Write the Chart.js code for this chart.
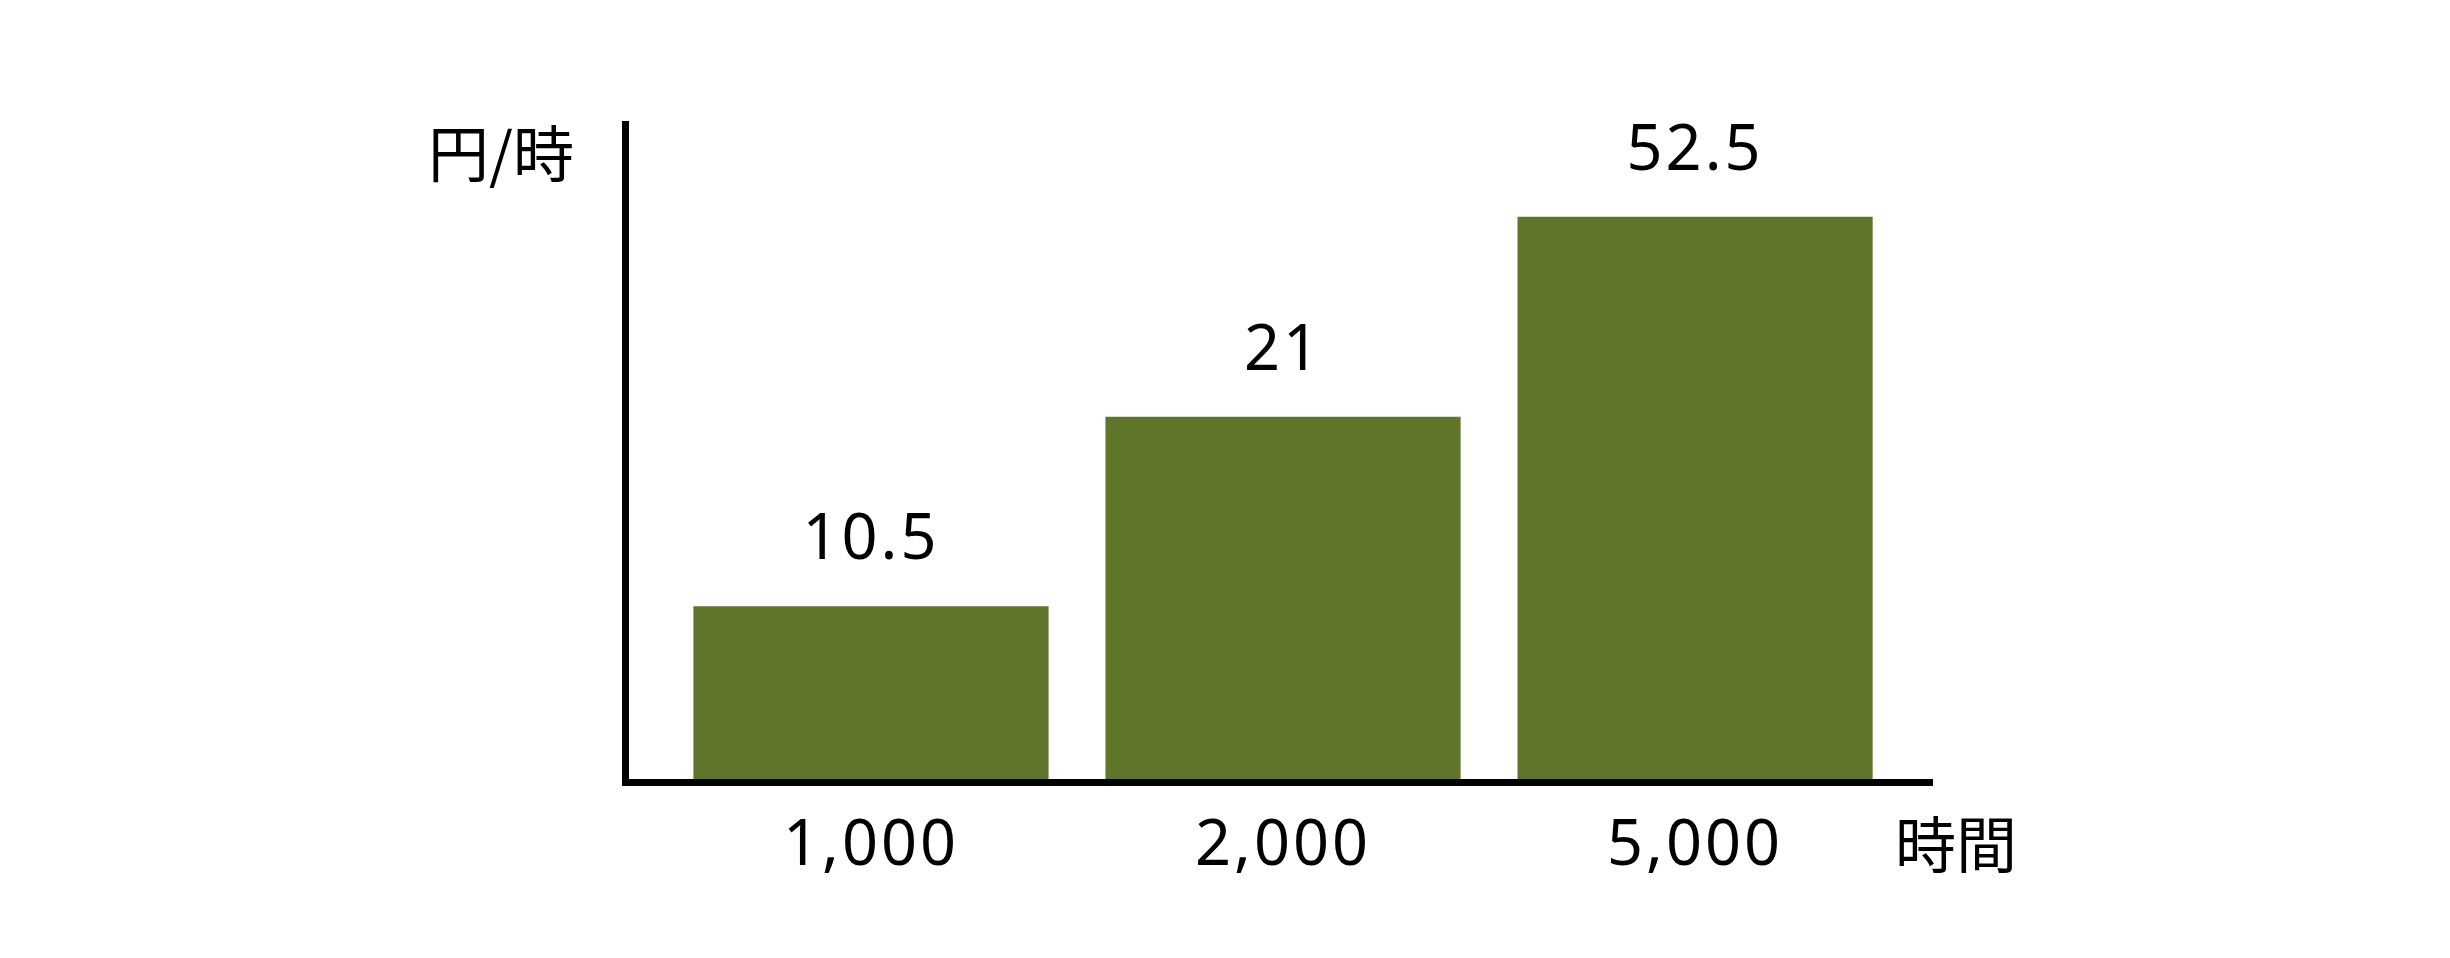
<!DOCTYPE html>
<html>
<head>
<meta charset="utf-8">
<title>円/時</title>
<script src="https://cdn.jsdelivr.net/npm/chart.js"></script>
<style>
    body { margin: 0; background: #ffffff; }
    #wrap { width: 2450px; height: 958px; }
</style>
</head>
<body>
<div id="wrap">
    <canvas id="rateChart" width="2450" height="958"></canvas>
</div>
<script>
    // categories (hours) and the values printed above the bars
    const hourLabels = ['1,000', '2,000', '5,000'];
    const rateLabels = ['10.5', '21', '52.5'];
    // bar heights as drawn in the picture (0-100 of the axis height, not to scale with the labels)
    const barHeights = [26.7, 55.5, 85.9];
    const xTitle = '時間';
    const yTitle = '円/時';

    const numFont = '"Noto Sans", sans-serif';
    const cjkFont = '"Noto Sans CJK JP", sans-serif';
    const barColor = 'rgb(94, 117, 42)';

    // value labels above bars and the two axis titles
    const annotate = {
        id: 'annotate',
        beforeDraw(chart) {
            chart.ctx.letterSpacing = '3px';
        },
        afterDraw(chart) {
            const ctx = chart.ctx;
            const area = chart.chartArea;
            ctx.save();
            ctx.fillStyle = '#000';
            ctx.letterSpacing = '3px';
            ctx.font = '63px ' + numFont;
            ctx.textAlign = 'center';
            ctx.textBaseline = 'alphabetic';
            chart.getDatasetMeta(0).data.forEach((bar, i) => {
                ctx.fillText(rateLabels[i], bar.x, bar.y - 47);
            });

            ctx.letterSpacing = '0px';
            ctx.font = '400 61px ' + cjkFont;
            ctx.textBaseline = 'middle';
            ctx.textAlign = 'right';
            ctx.fillText(yTitle, area.left - 51, area.top + 30);
            ctx.textAlign = 'left';
            ctx.fillText(xTitle, area.right - 37, area.bottom + 63);
            ctx.restore();
        }
    };

    const ctx = document.getElementById('rateChart').getContext('2d');

    new Chart(ctx, {
        type: 'bar',
        data: {
            datasets: [{
                data: barHeights.map((h, i) => ({ x: i + 1, y: h })),
                backgroundColor: barColor,
                borderWidth: 0,
                barPercentage: 0.862,
                categoryPercentage: 1.0,
            }],
        },
        options: {
            responsive: false,
            animation: false,
            layout: {
                padding: { left: 625, top: 124, right: 518, bottom: 0 },
            },
            plugins: {
                legend: { display: false },
                tooltip: { enabled: false },
            },
            scales: {
                x: {
                    type: 'linear',
                    min: 0.403,
                    max: 3.575,
                    offset: false,
                    grid: { display: false },
                    border: { display: true, color: '#000', width: 7, z: 1 },
                    ticks: {
                        stepSize: 1,
                        includeBounds: false,
                        autoSkip: false,
                        maxRotation: 0,
                        padding: 19,
                        color: '#000',
                        font: { family: numFont, size: 63 },
                        callback: (value) => Number.isInteger(value) ? hourLabels[value - 1] : '',
                    },
                    afterFit: (scale) => { scale.height = 176; },
                },
                y: {
                    min: 0,
                    max: 100,
                    grid: { display: false },
                    border: { display: true, color: '#000', width: 7, z: 1 },
                    ticks: { display: false },
                    afterFit: (scale) => { scale.width = 0; },
                },
            },
        },
        plugins: [annotate],
    });
</script>
</body>
</html>
